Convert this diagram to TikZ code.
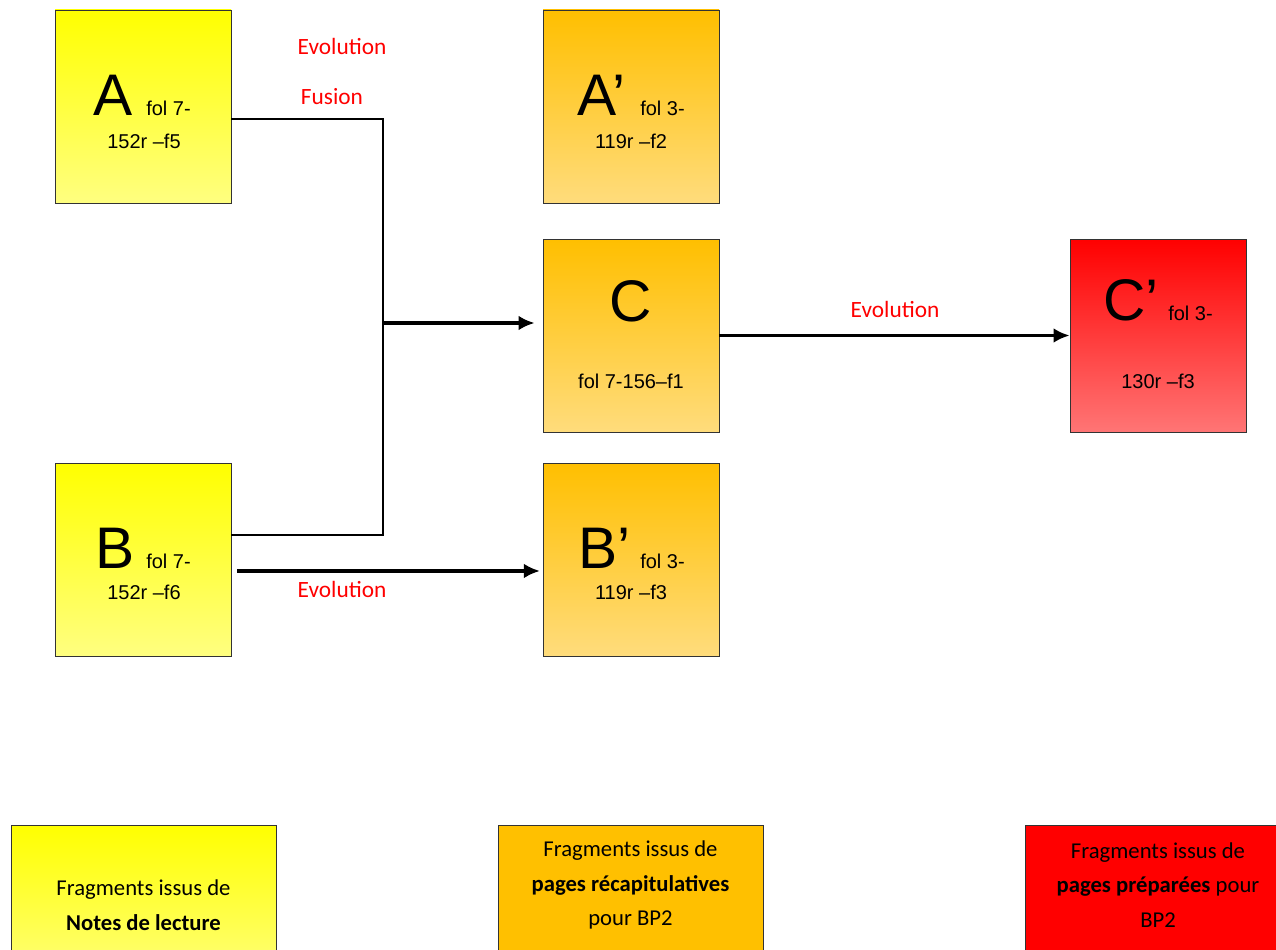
\documentclass[tikz,border=0pt]{standalone}
\usepackage{fontspec}
\usetikzlibrary{arrows.meta}
\setmainfont{Liberation Sans}
\newfontfamily\calib{Carlito}

\definecolor{notestop}{HTML}{FFFF00}
\definecolor{notesbot}{HTML}{FFFF80}
\definecolor{recaptop}{HTML}{FFBF00}
\definecolor{recapbot}{HTML}{FFDC7C}
\definecolor{preptop}{HTML}{FF0000}
\definecolor{prepbot}{HTML}{FF7575}
\definecolor{recapfill}{HTML}{FFC000}

\tikzset{
  frag/.style={draw=black!80, line width=0.6pt, minimum width=132pt, minimum height=144.75pt, inner sep=0pt},
  notes/.style={frag, top color=notestop, bottom color=notesbot},
  recap/.style={frag, top color=recaptop, bottom color=recapbot},
  prep/.style={frag, top color=preptop, bottom color=prepbot},
  letter/.style={font=\fontsize{44}{44}\selectfont, inner sep=0pt, anchor=base west},
  folio/.style={font=\fontsize{15}{18}\selectfont, inner sep=0pt, anchor=base west},
  folio2/.style={font=\fontsize{15}{18}\selectfont, inner sep=0pt, anchor=base},
  rel/.style={font=\calib\fontsize{17.5}{20}\selectfont, text=red, inner sep=0pt},
  link/.style={line width=1.8pt, line join=miter},
  flow/.style={line width=2.3pt, -{Latex[length=12pt,width=11pt]}},
  legend/.style={draw=black!80, line width=0.75pt, minimum width=198.75pt, minimum height=120pt, anchor=north, inner sep=0pt},
  legtext/.style={align=center, inner sep=0pt, font=\calib\fontsize{17}{26}\selectfont}
}

\begin{document}
\begin{tikzpicture}[x=0.75pt,y=-0.75pt]

\useasboundingbox (0,0) rectangle (1276,949);
\clip (0,0) rectangle (1276,949);

% fragment boxes
\node[notes] (A) at (143,106.5) {};
\node[recap] (Ap) at (631,106.5) {};
\node[recap] (C) at (631,335.5) {};
\node[prep] (Cp) at (1158,335.5) {};
\node[notes] (B) at (143,559.5) {};
\node[recap] (Bp) at (631,559.5) {};

% texts in the boxes
\node[letter] (Aname) at (93,115) {A};
\node[folio] (Afol) at (146,115) {fol 7-};
\node[folio2] (Aref) at (144,148) {152r –f5};

\node[letter] (Apname) at (577,115) {A’};
\node[folio] (Apfol) at (640,115) {fol 3-};
\node[folio2] (Apref) at (631,148) {119r –f2};

\node[letter, anchor=base] (Cname) at (631,321) {C};
\node[folio2] (Cref) at (631,388) {fol 7-156–f1};

\node[letter] (Cpname) at (1103,320) {C’};
\node[folio] (Cpfol) at (1168,320) {fol 3-};
\node[folio2] (Cpref) at (1158,388) {130r –f3};

\node[letter] (Bname) at (95,568) {B};
\node[folio] (Bfol) at (146,568) {fol 7-};
\node[folio2] (Bref) at (144,599) {152r –f6};

\node[letter] (Bpname) at (578,568) {B’};
\node[folio] (Bpfol) at (640,568) {fol 3-};
\node[folio2] (Bpref) at (631,599) {119r –f3};

% connectors
\coordinate (fuse) at (383,323);
\draw[link] ([yshift=-9.4pt]A.east) -| (fuse) |- ([yshift=18.4pt]B.east);
\draw[flow, shorten >=6pt] (fuse) -- (C.west |- fuse);
\draw[flow] (C.east) -- (Cp.west);
\draw[flow, shorten <=4.5pt, shorten >=2pt] ([yshift=-8.6pt]B.east) -- ([yshift=-8.6pt]Bp.west);

\node[rel] (evoA) at (342,46) {Evolution};
\node[rel] (fusA) at (332,97) {Fusion};
\node[rel] (evoC) at (895,309) {Evolution};
\node[rel] (evoB) at (342,589) {Evolution};

% legend
\node[legend, top color=notestop, bottom color=notesbot] (legnotes) at (143.5,825) {};
\node[legend, fill=recapfill] (legrecap) at (630.5,825) {};
\node[legend, fill=red, minimum width=199.5pt] (legprep) at (1158,825) {};

\node[legtext] (legnotestxt) at (143.5,905) {Fragments issus de\\\textbf{Notes de lecture}};
\node[legtext] (legrecaptxt) at (630.5,885) {Fragments issus de\\\textbf{pages récapitulatives}\\pour BP2};
\node[legtext] (legpreptxt) at (1158,885) {Fragments issus de\\\textbf{pages préparées} pour\\BP2};

\end{tikzpicture}
\end{document}
